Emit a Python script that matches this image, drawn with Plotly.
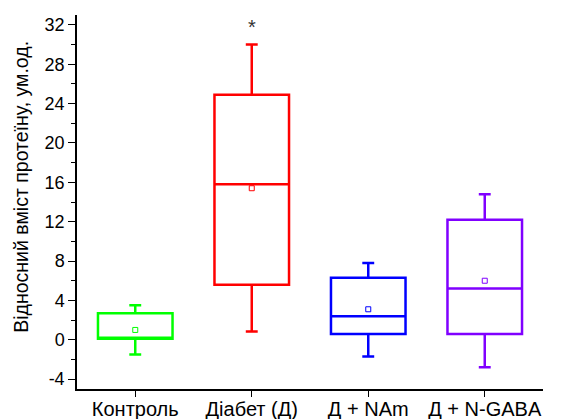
import plotly.graph_objects as go

categories = ["Контроль", "Діабет (Д)", "Д + NAm", "Д + N-GABA"]
colors = ["#00ff00", "#ff0000", "#0000ff", "#8000ff"]
q1 = [0.1, 5.6, 0.6, 0.6]
median = [0.1, 15.8, 2.4, 5.2]
q3 = [2.7, 24.9, 6.3, 12.2]
lower = [-1.5, 0.85, -1.7, -2.8]
upper = [3.5, 30.0, 7.8, 14.8]
means = [1.0, 15.4, 3.1, 6.0]
star_y = 31.8
y_ticks = [-4, 0, 4, 8, 12, 16, 20, 24, 28, 32]
y_ticktext = ["-4", "0", "4", "8", "12", "16", "20", "24", "28", "32"]
y_title = "Відносний вміст протеїну, ум.од."

fig = go.Figure()
for i, c in enumerate(categories):
    fig.add_trace(go.Box(
        x=[c], q1=[q1[i]], median=[median[i]], q3=[q3[i]],
        lowerfence=[lower[i]], upperfence=[upper[i]],
        line=dict(color=colors[i], width=2.5),
        fillcolor="rgba(0,0,0,0)", width=0.64, whiskerwidth=0.16,
        showlegend=False, boxpoints=False, hoverinfo="skip",
    ))
    fig.add_trace(go.Scatter(
        x=[c], y=[means[i]], mode="markers",
        marker=dict(symbol="square-open", size=5, color=colors[i], line=dict(width=1)),
        showlegend=False, hoverinfo="skip",
    ))

fig.add_annotation(x=categories[1], y=star_y, text="*", showarrow=False,
                   font=dict(size=20, color="#333333", family="Liberation Sans, Arial"))
fig.add_annotation(xref="paper", yref="paper", x=-0.12, y=0.541, text=y_title,
                   textangle=-90, showarrow=False, xanchor="center", yanchor="middle",
                   font=dict(size=19.5, color="black"))

# page body has an 8px margin, so the figure is offset by 8px
fig.update_layout(
    width=553, height=411,
    margin=dict(l=69, r=18, t=7, b=30),
    paper_bgcolor="white", plot_bgcolor="white",
    boxmode="overlay",
    font=dict(family="Liberation Sans, Arial", color="black"),
)
fig.update_xaxes(
    type="category", categoryorder="array", categoryarray=categories,
    range=[-0.5, 3.5], showline=True, linecolor="black", linewidth=1.5,
    ticks="outside", ticklen=6, tickcolor="black", tickfont=dict(size=20),
    ticklabelstandoff=-5,
    showgrid=False, zeroline=False, automargin=False,
)
fig.update_yaxes(
    range=[-5, 33], tickvals=y_ticks, ticktext=y_ticktext,
    showline=True, linecolor="black", linewidth=1.5,
    ticks="outside", ticklen=7, tickcolor="black", tickfont=dict(size=18),
    minor=dict(tickvals=[-2, 2, 6, 10, 14, 18, 22, 26, 30], ticks="outside", ticklen=4, tickcolor="black"),
    showgrid=False, zeroline=False, automargin=False,
)
fig.write_html("out.html")
